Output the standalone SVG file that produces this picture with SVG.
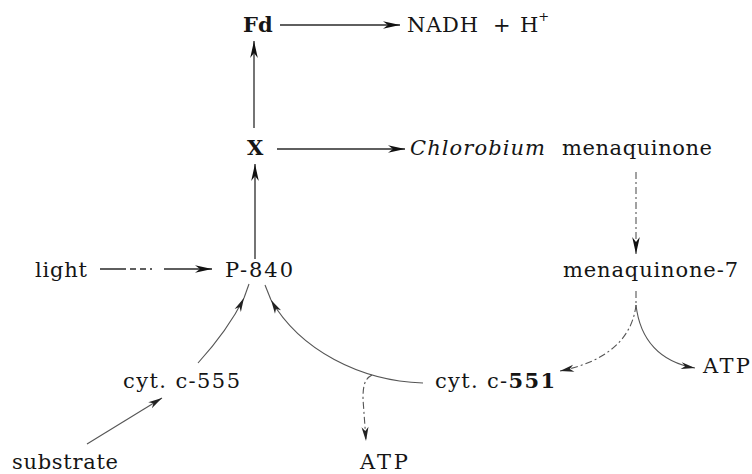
<svg xmlns="http://www.w3.org/2000/svg" width="752" height="474" viewBox="0 0 752 474">
<style>
text{font-family:"DejaVu Serif","Liberation Serif",serif;font-size:21px;fill:#151515}
.b{font-weight:bold}
.i{font-style:italic}
.c{fill:none;stroke:#2a2a2a;stroke-width:1.3}
.g{fill:none;stroke:#555;stroke-width:1.1}
.d{stroke-dasharray:7 3 2 3}
</style>
<defs>
<marker id="ah" viewBox="-18 -5 19 10" refX="0" refY="0" markerWidth="19" markerHeight="10" markerUnits="userSpaceOnUse" orient="auto">
<path d="M0,0 L-17,-3.8 L-12,0 L-17,3.8 Z" fill="#111" stroke="none"/>
</marker>
<marker id="as" viewBox="-15 -5 16 10" refX="0" refY="0" markerWidth="16" markerHeight="10" markerUnits="userSpaceOnUse" orient="auto">
<path d="M0,0 L-14,-3.5 L-10,0 L-14,3.5 Z" fill="#222" stroke="none"/>
</marker>
</defs>
<g id="connectors">
<path class="c" d="M280,25 H400" marker-end="url(#ah)"/>
<path class="c" d="M254,128 V41" marker-end="url(#ah)"/>
<path class="c" d="M277,149 H405" marker-end="url(#ah)"/>
<path class="c" d="M255,259 V164" marker-end="url(#ah)"/>
<path class="c" d="M100,269 H212" stroke-dasharray="26 4 6 4 6 4 2 12 60" marker-end="url(#ah)"/>
<path class="g d" d="M636,172 V254" marker-end="url(#ah)"/>
<path class="g d" d="M636,291 V305"/>
<path class="g d" d="M636,305 C632,340 605,362 560,371" marker-end="url(#as)"/>
<path class="g" d="M636,305 C640,340 660,362 695,368" marker-end="url(#as)"/>
<path class="g" d="M423,383 C360,381 300,350 271,300" marker-end="url(#as)"/>
<path class="g" d="M271,300 L265,285"/>
<path class="g d" d="M372,375 C364,379 363,387 363,399 L366,441" marker-end="url(#as)"/>
<path class="g" d="M198,363 Q228,330 244,298" marker-end="url(#as)"/>
<path class="g" d="M244,298 L249,284"/>
<path class="g" d="M87,444 L162,398" marker-end="url(#as)"/>
</g>
<g id="fd"><text class="b" x="243" y="32" font-size="20">Fd</text></g>
<g id="nadh"><text x="407" y="32"><tspan textLength="71" lengthAdjust="spacing">NADH</tspan><tspan x="493">+</tspan><tspan x="520">H</tspan><tspan dy="-11" font-size="13">+</tspan></text></g>
<g id="x"><text class="b" x="247" y="155" font-size="16">X</text></g>
<g id="menaquinone"><text x="410" y="155"><tspan class="i" textLength="135" lengthAdjust="spacing">Chlorobium</tspan><tspan x="562" textLength="150" lengthAdjust="spacing">menaquinone</tspan></text></g>
<g id="light"><text x="35" y="277" textLength="52" lengthAdjust="spacing">light</text></g>
<g id="p840"><text x="225" y="277" textLength="68" lengthAdjust="spacing">P-840</text></g>
<g id="menaquinone7"><text x="563" y="277" textLength="175" lengthAdjust="spacing">menaquinone-7</text></g>
<g id="cytc555"><text x="123" y="388" textLength="117" lengthAdjust="spacing">cyt. c-555</text></g>
<g id="cytc551"><text x="435" y="388" textLength="120" lengthAdjust="spacing">cyt. c-<tspan class="b">551</tspan></text></g>
<g id="atp1"><text x="703" y="373" textLength="47" lengthAdjust="spacing">ATP</text></g>
<g id="atp2"><text x="360" y="469" textLength="48" lengthAdjust="spacing">ATP</text></g>
<g id="substrate"><text x="12" y="469" textLength="106" lengthAdjust="spacing">substrate</text></g>
</svg>
